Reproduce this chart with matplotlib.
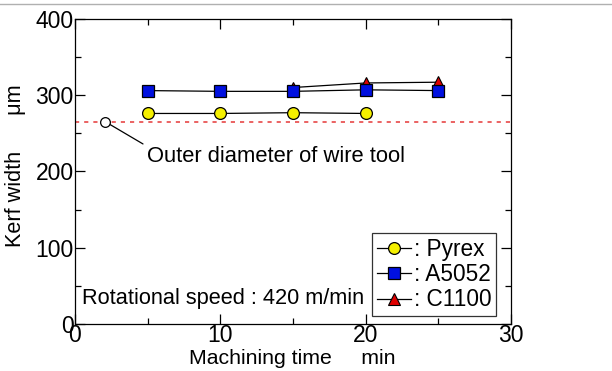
import matplotlib
matplotlib.use("Agg")
import matplotlib.pyplot as plt
from matplotlib.lines import Line2D
from matplotlib.ticker import MultipleLocator

plt.rcParams['font.family'] = ['Liberation Sans', 'DejaVu Sans']

# datos
t_pyrex = [5, 10, 15, 20]
kerf_pyrex = [276, 276, 277, 276]
t_a5052 = [5, 10, 15, 20, 25]
kerf_a5052 = [306, 305, 305, 307, 306]
t_c1100 = [15, 20, 25]
kerf_c1100 = [310, 316, 317]
wire_diam = 265
wire_x = 2.1

fig = plt.figure(figsize=(6.12, 3.71), dpi=100)
ax = fig.add_axes([0.1225, 0.127, 0.7125, 0.822])

ax.axhline(wire_diam, color='#e84848', ls=(0, (2.5, 3)), lw=1.2, zorder=1)
ax.plot([wire_x], [wire_diam], 'o', mfc='white', mec='black', ms=7, mew=0.9, zorder=3)
# linea del circulo al texto
ax.annotate("", xy=(wire_x, wire_diam), xytext=(4.68, 236),
            arrowprops=dict(arrowstyle='-', color='black', lw=0.9, shrinkA=0, shrinkB=4))
ax.text(4.95, 219, "Outer diameter of wire tool", fontsize=15.8, va='center', ha='left')

p1, = ax.plot(t_pyrex, kerf_pyrex, 'k-', lw=0.9, marker='o', ms=8.5, mfc='#f5f000',
              mec='black', mew=0.9, label=': Pyrex', zorder=4)
p3, = ax.plot(t_c1100, kerf_c1100, 'k-', lw=0.9, marker='^', ms=9, mfc='#e00000',
              mec='black', mew=0.8, label=': C1100', zorder=4)
p2, = ax.plot(t_a5052, kerf_a5052, 'k-', lw=0.9, marker='s', ms=8.5, mfc='#0010e0',
              mec='black', mew=0.9, label=': A5052', zorder=5)

ax.set_xlim(0, 30)
ax.set_ylim(0, 400)
ax.xaxis.set_major_locator(MultipleLocator(10))
ax.xaxis.set_minor_locator(MultipleLocator(5))
ax.yaxis.set_major_locator(MultipleLocator(100))
ax.yaxis.set_minor_locator(MultipleLocator(50))
ax.tick_params(which='both', direction='in', top=True, right=True, labelsize=16.5, width=0.9)
ax.tick_params(which='major', length=7)
ax.tick_params(which='minor', length=4)
ax.tick_params(axis='x', pad=0)
ax.tick_params(axis='y', pad=1)
for s in ax.spines.values():
    s.set_linewidth(0.9)

ax.set_xlabel("Machining time     min", fontsize=15.3)
ax.set_ylabel("Kerf width      \u03bcm", fontsize=15.6)
ax.xaxis.set_label_coords(0.498, -0.082)
ax.yaxis.set_label_coords(-0.112, 0.518)

ax.text(0.48, 33, "Rotational speed : 420 m/min", fontsize=15.7, va='center', ha='left')

leg = ax.legend([p1, p2, p3], [': Pyrex', ': A5052', ': C1100'], loc='lower right',
                bbox_to_anchor=(0.966, 0.026), fontsize=16.3, frameon=True, fancybox=False,
                edgecolor='black', handlelength=1.5, handletextpad=0.15,
                labelspacing=0.1, borderpad=0.2, borderaxespad=0)
leg.get_frame().set_linewidth(0.9)

fig.add_artist(Line2D([0, 1], [0.988, 0.988], color='#b0b0b0', lw=1))

fig.savefig("out.png", dpi=100)
